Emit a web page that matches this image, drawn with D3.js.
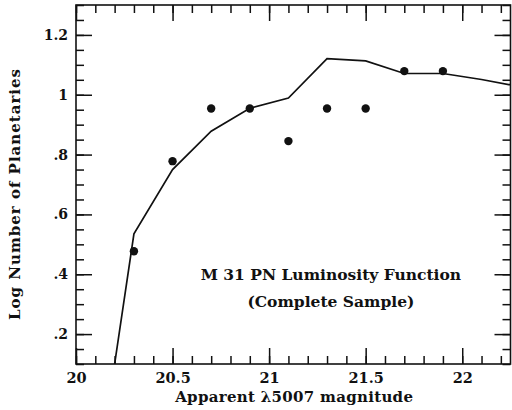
<!DOCTYPE html>
<html>
<head>
<meta charset="utf-8">
<script src="https://cdn.jsdelivr.net/npm/d3@7"></script>
<style>
  body { margin: 0; background: #fff; }
  svg text { font-family: "DejaVu Serif", serif; fill: #111; }
</style>
</head>
<body>
<div id="chart"></div>
<script>
// observed counts (log N) per 0.2 mag bin
const binMags = [20.3, 20.5, 20.7, 20.9, 21.1, 21.3, 21.5, 21.7, 21.9];
const logCounts = [0.477, 0.778, 0.954, 0.954, 0.845, 0.954, 0.954, 1.079, 1.079];

// fitted luminosity function
const modelMags = [20.2, 20.3, 20.5, 20.7, 20.9, 21.1, 21.3, 21.5, 21.7, 21.9, 22.1, 22.3];
const modelLogN = [0.1, 0.535, 0.75, 0.878, 0.955, 0.989, 1.121, 1.113, 1.071, 1.071, 1.051, 1.027];

const xTicks = [20, 20.5, 21, 21.5, 22];
const yTicks = [0.2, 0.4, 0.6, 0.8, 1, 1.2];

const titleLines = ["M 31 PN Luminosity Function", "(Complete Sample)"];

const width = 512, height = 410;
const margin = {top: 5, right: 1.5, bottom: 46, left: 76};
const w = width - margin.left - margin.right;
const h = height - margin.top - margin.bottom;

const svg = d3.select("#chart").append("svg")
    .attr("width", width)
    .attr("height", height);

const g = svg.append("g")
    .attr("transform", "translate(" + margin.left + "," + margin.top + ")");

const x = d3.scaleLinear().domain([20, 22.25]).range([0, w]);
const y = d3.scaleLinear().domain([0.1, 1.3]).range([h, 0]);

const xMinor = d3.range(20, 22.25, 0.1).map(d => +d.toFixed(1));
const yMinor = d3.range(0.1, 1.3001, 0.05).map(d => +d.toFixed(2));

const fmtX = d => String(+d.toFixed(1));
const fmtY = d => d === 1 ? "1" : d3.format(".1f")(d).replace(/^0/, "");

const MAJ = 16, MIN = 8;

function styleAxis(sel) {
    sel.select(".domain").remove();
    sel.selectAll("line").attr("stroke", "#111").attr("stroke-width", 1.5);
}

// minor ticks, all four sides
g.append("g").attr("transform", "translate(0," + h + ")")
    .call(d3.axisBottom(x).tickValues(xMinor).tickSize(-MIN).tickFormat(""))
    .call(styleAxis);
g.append("g")
    .call(d3.axisTop(x).tickValues(xMinor).tickSize(-MIN).tickFormat(""))
    .call(styleAxis);
g.append("g")
    .call(d3.axisLeft(y).tickValues(yMinor).tickSize(-MIN).tickFormat(""))
    .call(styleAxis);
g.append("g").attr("transform", "translate(" + w + ",0)")
    .call(d3.axisRight(y).tickValues(yMinor).tickSize(-MIN).tickFormat(""))
    .call(styleAxis);

// major ticks + labels
g.append("g").attr("transform", "translate(0," + h + ")")
    .call(d3.axisBottom(x).tickValues(xTicks).tickSize(-MAJ).tickPadding(9).tickFormat(fmtX))
    .call(styleAxis)
    .selectAll("text").attr("font-size", 14.5).attr("font-weight", "bold");
g.append("g")
    .call(d3.axisTop(x).tickValues(xTicks).tickSize(-MAJ).tickFormat(""))
    .call(styleAxis);
g.append("g")
    .call(d3.axisLeft(y).tickValues(yTicks).tickSize(-MAJ).tickPadding(8).tickFormat(fmtY))
    .call(styleAxis)
    .selectAll("text").attr("font-size", 14).attr("font-weight", "bold");
g.append("g").attr("transform", "translate(" + w + ",0)")
    .call(d3.axisRight(y).tickValues(yTicks).tickSize(-MAJ).tickFormat(""))
    .call(styleAxis);

// frame
g.append("rect")
    .attr("width", w).attr("height", h)
    .attr("fill", "none").attr("stroke", "#111").attr("stroke-width", 1.6);

// clip for the model curve
svg.append("defs").append("clipPath").attr("id", "plotclip")
  .append("rect").attr("width", w).attr("height", h);

const line = d3.line()
    .x((d, i) => x(modelMags[i]))
    .y(d => y(d));

g.append("path")
    .datum(modelLogN)
    .attr("clip-path", "url(#plotclip)")
    .attr("d", line)
    .attr("fill", "none")
    .attr("stroke", "#111")
    .attr("stroke-width", 1.7);

g.selectAll("circle.obs")
    .data(logCounts)
  .enter().append("circle")
    .attr("class", "obs")
    .attr("cx", (d, i) => x(binMags[i]))
    .attr("cy", d => y(d))
    .attr("r", 4.2)
    .attr("fill", "#111");

// annotation
g.selectAll("text.note")
    .data(titleLines)
  .enter().append("text")
    .attr("class", "note")
    .attr("x", x(21.32))
    .attr("y", (d, i) => y(0.381) + i * 27)
    .attr("text-anchor", "middle")
    .attr("font-size", 15.5)
    .attr("font-weight", "bold")
    .text(d => d);

// axis titles
svg.append("text")
    .attr("x", margin.left + x(21.13))
    .attr("y", 402)
    .attr("text-anchor", "middle")
    .attr("font-size", 15)
    .attr("font-weight", "bold")
    .attr("letter-spacing", 0.3)
    .text("Apparent \u03bb5007 magnitude");

svg.append("text")
    .attr("transform", "translate(20," + 194 + ")rotate(-90)")
    .attr("text-anchor", "middle")
    .attr("font-size", 15)
    .attr("font-weight", "bold")
    .attr("letter-spacing", 1)
    .text("Log Number of Planetaries");
</script>
</body>
</html>
